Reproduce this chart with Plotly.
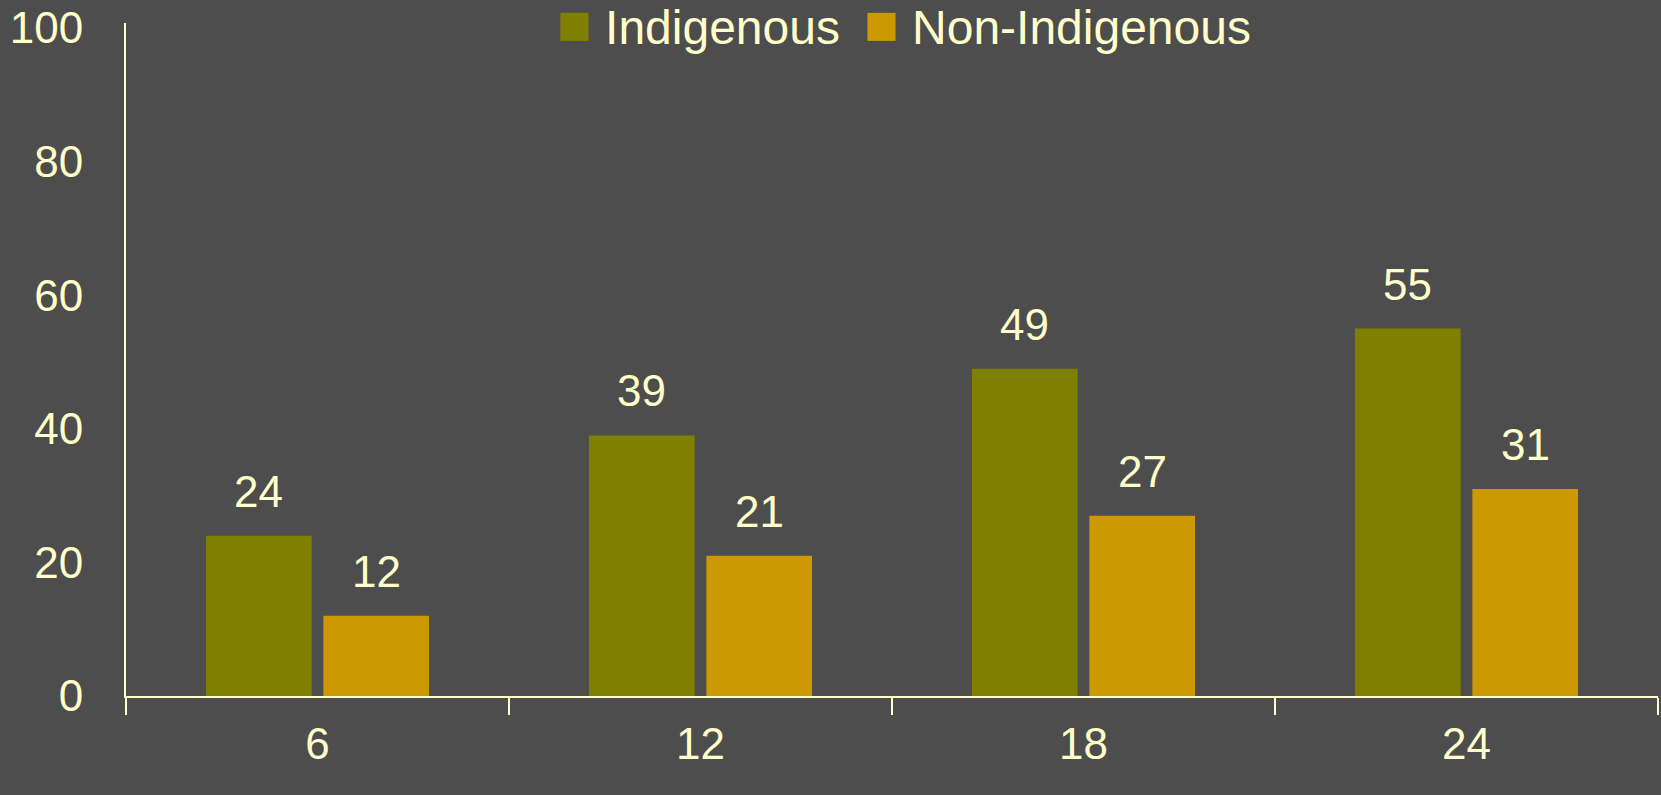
import plotly.graph_objects as go

categories = ["6", "12", "18", "24"]
indigenous = [24, 39, 49, 55]
non_indigenous = [12, 21, 27, 31]
y_ticks = [0, 20, 40, 60, 80, 100]
series_names = ["Indigenous", "Non-Indigenous"]

BG = "#4D4D4D"
FG = "#FFFFCC"
C_IND = "#808000"
C_NON = "#CC9900"
FONT = "Liberation Sans, Arial, sans-serif"

fig = go.Figure()
fig.add_trace(go.Bar(name=series_names[0], x=categories, y=indigenous, showlegend=False,
                     marker=dict(color=C_IND, line=dict(width=0))))
fig.add_trace(go.Bar(name=series_names[1], x=categories, y=non_indigenous, showlegend=False,
                     marker=dict(color=C_NON, line=dict(width=0))))
# legend entries with large square swatches drawn as text glyphs
for name, col, lw in zip(series_names, (C_IND, C_NON), (262, None)):
    fig.add_trace(go.Scatter(
        name=f"<span style='color:{col};font-size:58px'>■</span> {name}",
        x=[None], y=[None], mode="markers", legendwidth=lw,
        marker=dict(symbol="square", size=1, color=BG, opacity=0,
                    line=dict(width=0))))

for series, shift in ((indigenous, -59), (non_indigenous, 59)):
    for i, v in enumerate(series):
        fig.add_annotation(x=i, y=v, text=str(v), showarrow=False,
                           xshift=shift, yshift=18, yanchor="bottom",
                           font=dict(family=FONT, size=44, color=FG))

fig.update_layout(
    width=1661, height=795,
    paper_bgcolor=BG, plot_bgcolor=BG,
    font=dict(family=FONT, size=44, color=FG),
    margin=dict(l=126, r=3, t=23, b=99, autoexpand=False),
    barmode="group", bargap=0.387, bargroupgap=0.1,
    showlegend=True,
    legend=dict(orientation="h", x=0.255, xanchor="left", y=1.052,
                yanchor="top",
                font=dict(family=FONT, size=48, color=FG),
                bgcolor="rgba(0,0,0,0)", itemwidth=30, tracegroupgap=0),
)
fig.update_xaxes(type="category", showline=True, linecolor=FG, linewidth=2,
                 ticks="outside", tickson="boundaries", ticklen=17,
                 tickcolor=FG, tickwidth=2, ticklabelstandoff=8,
                 showgrid=False, zeroline=False, range=[-0.5, 3.5],
                 tickfont=dict(family=FONT, size=44, color=FG))
fig.update_yaxes(range=[0, 100.75], tickvals=y_ticks, showline=True,
                 linecolor=FG, linewidth=2, ticks="", showgrid=False,
                 zeroline=False, ticklabelstandoff=32,
                 tickfont=dict(family=FONT, size=44, color=FG))

fig.write_html("out.html", config={"displayModeBar": False},
               post_script="document.body.style.margin='0';document.body.style.overflow='hidden';")
